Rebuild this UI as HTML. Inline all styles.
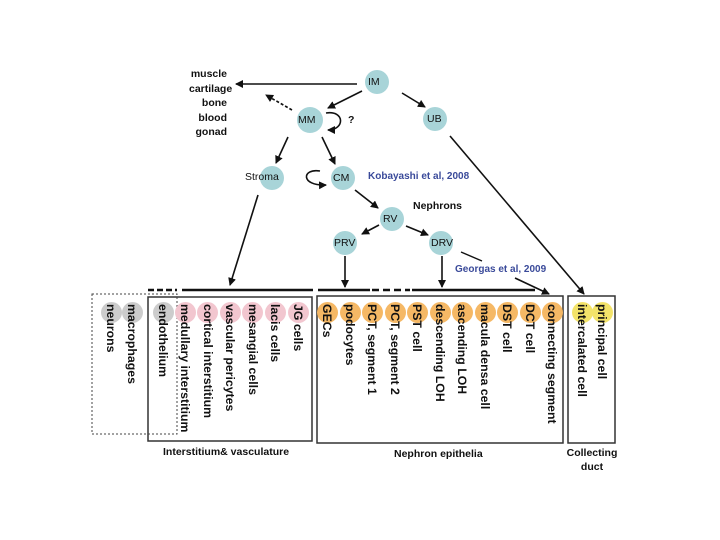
<!DOCTYPE html>
<html><head><style>
body{margin:0;width:720px;height:540px;background:#fff;position:relative;overflow:hidden;font-family:"Liberation Sans",sans-serif}
.v{position:absolute;writing-mode:vertical-rl;font-size:12.3px;font-weight:bold;color:#111;top:304px;line-height:12px;white-space:nowrap}
.c{position:absolute;width:21px;height:21px;border-radius:50%;top:302px}
.t{position:absolute;font-size:10.5px;font-weight:bold;color:#111;white-space:nowrap}
</style></head><body>
<svg width="720" height="540" style="position:absolute;left:0;top:0">
<defs><marker id="a" markerWidth="8" markerHeight="8" refX="7" refY="4" orient="auto" markerUnits="userSpaceOnUse"><path d="M0,0 L8,4 L0,8 z" fill="#111"/></marker></defs>
<g fill="#a8d4d8">
<circle cx="377" cy="82" r="12"/><circle cx="310" cy="120" r="13"/><circle cx="435" cy="119" r="12"/>
<circle cx="272" cy="178" r="12"/><circle cx="343" cy="178" r="12"/><circle cx="392" cy="219" r="12"/>
<circle cx="345" cy="243" r="12"/><circle cx="441" cy="243" r="12"/></g>
<g stroke="#111" stroke-width="1.6" fill="none" marker-end="url(#a)">
<line x1="357" y1="84" x2="236" y2="84"/>
<line x1="362" y1="91" x2="328" y2="108"/>
<line x1="402" y1="93" x2="425" y2="107"/>
<line x1="292" y1="110" x2="266" y2="95" stroke-dasharray="3,2"/>
<path d="M326,113 C345,110 345,130 328,130"/>
<line x1="288" y1="137" x2="276" y2="163"/>
<line x1="322" y1="137" x2="335" y2="164"/>
<path d="M320,171 C302,168 300,186 326,185"/>
<line x1="355" y1="190" x2="378" y2="208"/>
<line x1="379" y1="225" x2="362" y2="234"/>
<line x1="406" y1="226" x2="428" y2="235"/>
<line x1="258" y1="195" x2="230" y2="285"/>
<line x1="345" y1="256" x2="345" y2="287"/>
<line x1="442" y1="256" x2="442" y2="287"/>
<line x1="450" y1="136" x2="584" y2="294"/>
<line x1="515" y1="278" x2="549" y2="294"/>
</g>
<line x1="461" y1="252" x2="482" y2="261" stroke="#111" stroke-width="1.4"/>
<g stroke="#111" stroke-width="2.5">
<line x1="148" y1="290" x2="177" y2="290" stroke-dasharray="6,3"/>
<line x1="182" y1="290" x2="313" y2="290"/>
<line x1="318" y1="290" x2="370" y2="290"/>
<line x1="372" y1="290" x2="410" y2="290" stroke-dasharray="7,4"/>
<line x1="412" y1="290" x2="535" y2="290"/>
</g>
<g fill="none" stroke="#333" stroke-width="1.5">
<rect x="148" y="297" width="164" height="144"/>
<rect x="317" y="296" width="246" height="147"/>
<rect x="568" y="296" width="47" height="147"/>
</g>
<rect x="92" y="294" width="85" height="140" fill="none" stroke="#444" stroke-width="1" stroke-dasharray="2,2"/>
</svg>
<div class="t" style="left:189px;top:67px;width:38px;text-align:right;line-height:14.5px">muscle<br>cartilage<br>bone<br>blood<br>gonad</div>
<div class="t" style="left:368px;top:76px;font-weight:normal">IM</div>
<div class="t" style="left:298px;top:114px;font-weight:normal">MM</div>
<div class="t" style="left:348px;top:114px">?</div>
<div class="t" style="left:427px;top:113px;font-weight:normal">UB</div>
<div class="t" style="left:245px;top:171px;font-weight:normal">Stroma</div>
<div class="t" style="left:333px;top:172px;font-weight:normal">CM</div>
<div class="t" style="left:368px;top:171px;color:#3a4a9a;font-size:10px">Kobayashi et al, 2008</div>
<div class="t" style="left:413px;top:200px">Nephrons</div>
<div class="t" style="left:383px;top:213px;font-weight:normal">RV</div>
<div class="t" style="left:334px;top:237px;font-weight:normal">PRV</div>
<div class="t" style="left:431px;top:237px;font-weight:normal">DRV</div>
<div class="t" style="left:455px;top:264px;color:#3a4a9a;font-size:10px">Georgas et al, 2009</div>
<div class="c" style="left:101px;background:#ccc"></div>
<div class="c" style="left:122px;background:#ccc"></div>
<div class="c" style="left:153px;background:#ccc"></div>
<div class="c" style="left:175px;background:#f2c6cf"></div>
<div class="c" style="left:197px;background:#f2c6cf"></div>
<div class="c" style="left:220px;background:#f2c6cf"></div>
<div class="c" style="left:242px;background:#f2c6cf"></div>
<div class="c" style="left:265px;background:#f2c6cf"></div>
<div class="c" style="left:288px;background:#f2c6cf"></div>
<div class="c" style="left:317px;background:#f5b865"></div>
<div class="c" style="left:340px;background:#f5b865"></div>
<div class="c" style="left:362px;background:#f5b865"></div>
<div class="c" style="left:385px;background:#f5b865"></div>
<div class="c" style="left:407px;background:#f5b865"></div>
<div class="c" style="left:430px;background:#f5b865"></div>
<div class="c" style="left:452px;background:#f5b865"></div>
<div class="c" style="left:475px;background:#f5b865"></div>
<div class="c" style="left:497px;background:#f5b865"></div>
<div class="c" style="left:520px;background:#f5b865"></div>
<div class="c" style="left:542px;background:#f5b865"></div>
<div class="c" style="left:572px;background:#f3e36a"></div>
<div class="c" style="left:592px;background:#f3e36a"></div>
<div class="v" style="left:105px">neurons</div>
<div class="v" style="left:126px">macrophages</div>
<div class="v" style="left:157px">endothelium</div>
<div class="v" style="left:179px">medullary interstitium</div>
<div class="v" style="left:202px">cortical interstitium</div>
<div class="v" style="left:224px">vascular pericytes</div>
<div class="v" style="left:247px">mesangial cells</div>
<div class="v" style="left:269px">lacis cells</div>
<div class="v" style="left:292px">JG cells</div>
<div class="v" style="left:321px">GECs</div>
<div class="v" style="left:344px">podocytes</div>
<div class="v" style="left:366px">PCT, segment 1</div>
<div class="v" style="left:389px">PCT, segment 2</div>
<div class="v" style="left:411px">PST cell</div>
<div class="v" style="left:434px">descending LOH</div>
<div class="v" style="left:456px">ascending LOH</div>
<div class="v" style="left:479px">macula densa cell</div>
<div class="v" style="left:501px">DST cell</div>
<div class="v" style="left:524px">DCT cell</div>
<div class="v" style="left:546px">connecting segment</div>
<div class="v" style="left:576px">intercalated cell</div>
<div class="v" style="left:596px">principal cell</div>
<div class="t" style="left:163px;top:446px">Interstitium&amp; vasculature</div>
<div class="t" style="left:394px;top:448px">Nephron epithelia</div>
<div class="t" style="left:563px;top:446px;width:58px;text-align:center;line-height:14px">Collecting<br>duct</div>
</body></html>
